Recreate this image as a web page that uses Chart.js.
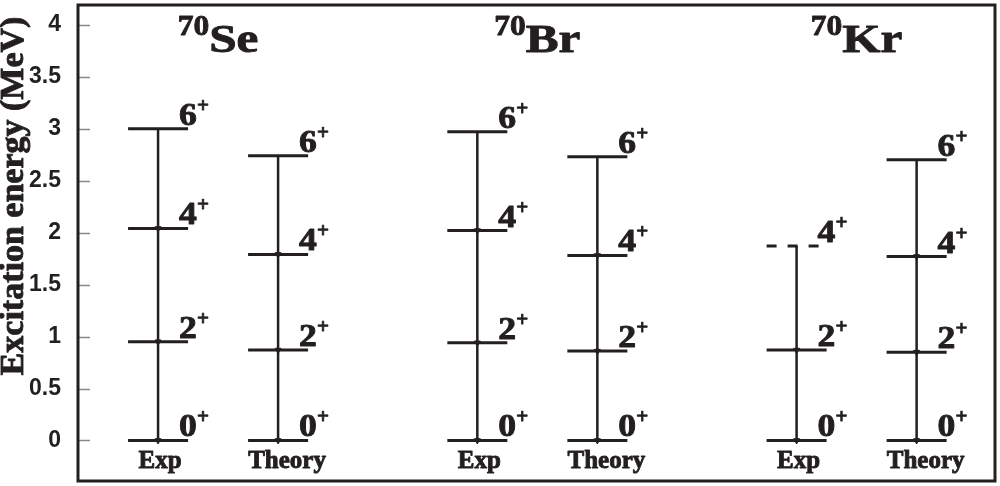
<!DOCTYPE html>
<html>
<head>
<meta charset="utf-8">
<script src="https://cdn.jsdelivr.net/npm/chart.js@4.4.1/dist/chart.umd.min.js"></script>
<style>
  html, body { margin: 0; padding: 0; background: #fff; }
  #wrap { width: 1000px; height: 486px; }
</style>
</head>
<body>
<div id="wrap"><canvas id="myChart" width="1000" height="486"></canvas></div>
<script>
// level energies in MeV
var massNumber = '70';
var nuclei = ['Se', 'Br', 'Kr'];
var columnLabels = ['Exp', 'Theory'];
var spins = ['0', '2', '4', '6'];
var parity = '+';

var seExp = [0, 0.95, 2.04, 3.00];
var seTheory = [0, 0.87, 1.79, 2.74];
var brExp = [0, 0.94, 2.02, 2.97];
var brTheory = [0, 0.86, 1.78, 2.73];
var krExp = [0, 0.87, 1.87];
var krTheory = [0, 0.85, 1.77, 2.70];
var krExpTentative = [false, false, true];

var yTicks = [0, 0.5, 1, 1.5, 2, 2.5, 3, 3.5, 4];

// layout (x axis units = one column spacing)
var ink = '#231f20';
var firstCol = 0.667, groupStep = 2.66, theoryStep = 1.0, halfWidth = 0.25;

var columns = [
    { nucleus: 0, kind: 0, levels: seExp },
    { nucleus: 0, kind: 1, levels: seTheory },
    { nucleus: 1, kind: 0, levels: brExp },
    { nucleus: 1, kind: 1, levels: brTheory },
    { nucleus: 2, kind: 0, levels: krExp, tentative: krExpTentative },
    { nucleus: 2, kind: 1, levels: krTheory }
];
for (var i = 0; i < columns.length; i++) {
    columns[i].x = firstCol + columns[i].nucleus * groupStep + columns[i].kind * theoryStep;
}

var datasets = [];
columns.forEach(function (col) {
    col.levels.forEach(function (e, k) {
        var dashed = col.tentative && col.tentative[k];
        datasets.push({
            data: [{ x: col.x - halfWidth, y: e }, { x: col.x + halfWidth, y: e }],
            showLine: true,
            borderColor: ink,
            borderWidth: 3,
            borderDash: dashed ? [10, 11] : [],
            pointRadius: 0
        });
    });
    // cascade from the highest level down to the ground state
    var cascade = [];
    var radii = [];
    for (var k = col.levels.length - 1; k >= 0; k--) {
        cascade.push({ x: col.x, y: col.levels[k] });
        radii.push(k === col.levels.length - 1 ? 0 : 3.5);
    }
    datasets.push({
        data: cascade,
        showLine: true,
        borderColor: ink,
        borderWidth: 2.5,
        pointRadius: radii,
        pointStyle: 'triangle',
        rotation: 180,
        pointBackgroundColor: ink,
        pointBorderColor: ink,
        pointBorderWidth: 1
    });
});

function boldText(ctx, text, x, y, sx) {
    ctx.save();
    ctx.translate(x, y);
    ctx.scale(sx, 1);
    ctx.fillText(text, 0, 0);
    ctx.strokeText(text, 0, 0);
    ctx.restore();
}

var levelScheme = {
    id: 'levelScheme',
    afterDraw: function (chart) {
        var ctx = chart.ctx;
        var area = chart.chartArea;
        var xs = chart.scales.x, ys = chart.scales.y;
        ctx.save();

        // inner tick marks
        ctx.strokeStyle = '#8a8a8a';
        ctx.lineWidth = 1.5;
        yTicks.forEach(function (v) {
            var py = Math.round(ys.getPixelForValue(v)) + 0.5;
            ctx.beginPath();
            ctx.moveTo(area.left, py);
            ctx.lineTo(area.left + 12, py);
            ctx.stroke();
        });

        // frame
        ctx.strokeStyle = ink;
        ctx.lineWidth = 3;
        ctx.strokeRect(area.left, area.top, area.right - area.left, area.bottom - area.top);

        ctx.fillStyle = ink;
        ctx.strokeStyle = ink;
        ctx.lineWidth = 0.9;
        ctx.lineJoin = 'round';
        ctx.textBaseline = 'alphabetic';

        // spin labels
        columns.forEach(function (col) {
            var px = xs.getPixelForValue(col.x);
            col.levels.forEach(function (e, k) {
                var py = ys.getPixelForValue(e);
                ctx.textAlign = 'left';
                ctx.font = 'bold 31px "Liberation Serif"';
                var x0 = px + 21;
                boldText(ctx, spins[k], x0, py - 4, 1.15);
                var w = ctx.measureText(spins[k]).width * 1.15;
                ctx.font = 'bold 21px "Liberation Serif"';
                boldText(ctx, parity, x0 + w, py - 17, 1);
            });
            ctx.textAlign = 'center';
            ctx.font = 'bold 25px "Liberation Serif"';
            boldText(ctx, columnLabels[col.kind], px + (col.kind ? 9 : 2), 468, 1);
        });

        // nucleus titles
        nuclei.forEach(function (name, n) {
            var c0 = xs.getPixelForValue(firstCol + n * groupStep);
            var c1 = xs.getPixelForValue(firstCol + n * groupStep + theoryStep);
            var mid = (c0 + c1) / 2;
            ctx.textAlign = 'left';
            ctx.font = 'bold 30px "Liberation Serif"';
            var wa = ctx.measureText(massNumber).width * 1.05;
            ctx.font = 'bold 41px "Liberation Serif"';
            var wb = ctx.measureText(name).width * 1.2;
            var left = mid - (wa + wb) / 2;
            ctx.font = 'bold 30px "Liberation Serif"';
            boldText(ctx, massNumber, left, 35, 1.05);
            ctx.font = 'bold 41px "Liberation Serif"';
            boldText(ctx, name, left + wa, 52, 1.2);
        });

        // y axis title
        ctx.translate(23, 196);
        ctx.rotate(-Math.PI / 2);
        ctx.textAlign = 'center';
        ctx.font = 'bold 34px "Liberation Serif"';
        ctx.fillText('Excitation energy (MeV)', 0, 0);
        ctx.strokeText('Excitation energy (MeV)', 0, 0);
        ctx.restore();
    }
};

var ctx = document.getElementById('myChart');
var myChart = new Chart(ctx, {
    type: 'scatter',
    data: { datasets: datasets },
    options: {
        responsive: false,
        devicePixelRatio: 1,
        animation: false,
        layout: { padding: { top: 2, right: 5, bottom: 2, left: 0 } },
        plugins: { legend: { display: false }, tooltip: { enabled: false } },
        scales: {
            x: { type: 'linear', min: 0, max: 7.64, display: false },
            y: {
                type: 'linear',
                min: -0.39,
                max: 4.19,
                afterFit: function (scale) {
                    scale.width = 78;
                    scale.paddingTop = 0;
                    scale.paddingBottom = 0;
                },
                afterBuildTicks: function (scale) {
                    scale.ticks = yTicks.map(function (v) { return { value: v }; });
                },
                grid: { display: true, drawOnChartArea: false, drawTicks: false },
                border: { display: false },
                ticks: {
                    padding: 17,
                    color: ink,
                    font: { family: '"Liberation Sans"', weight: 'bold', size: 23 },
                    callback: function (v) { return String(v); }
                }
            }
        }
    },
    plugins: [levelScheme]
});
</script>
</body>
</html>
